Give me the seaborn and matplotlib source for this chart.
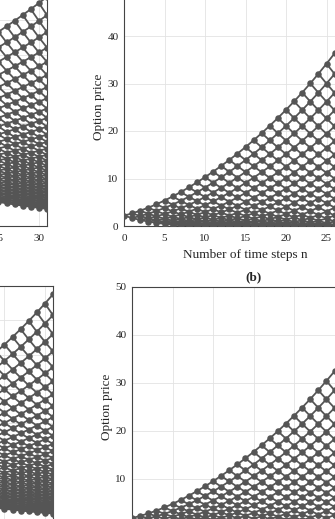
import numpy as np
import pandas as pd
import seaborn as sns
import matplotlib.pyplot as plt

# lattice parameters per panel (top-left, top-right, bottom-left, bottom-right),
# estimated from the visible parts of the reference
panels = ['tl', 'tr', 'bl', 'br']
tree_kind = ['stock', 'call', 'stock', 'call']
start_price = [28.4, 18.0, 19.1, 18.0]
up_factor = [1.028, 1.043, 1.0416, 1.042]
down_factor = [0.9456, 0.9588, 0.9479, 0.9597]
strike = [0.0, 17.5, 0.0, 18.0]
step_rate = [0.0, 0.001, 0.0, 0.001]
n_steps = [31, 30, 31, 30]

x_ticks = [0, 5, 10, 15, 20, 25, 30]
y_max = [70, 50, 70, 50]

# axes boxes in pixels: left, top, right, bottom (figure 335 x 519)
boxes = [(-204, -14, 47, 226), (124, -11.5, 367, 226),
         (-198, 286, 53, 526), (132, 287, 375, 527)]

node_color = '#555555'


def lattice(kind, s0, u, d, k, r, n):
    stock = [[s0 * u**j * d**(i - j) for j in range(i + 1)] for i in range(n + 1)]
    if kind == 'stock':
        return stock
    p = (np.exp(r) - d) / (u - d)
    vals = [None] * (n + 1)
    vals[n] = [max(s - k, 0.0) for s in stock[n]]
    for i in range(n - 1, -1, -1):
        vals[i] = [np.exp(-r) * (p * vals[i + 1][j + 1] + (1 - p) * vals[i + 1][j])
                   for j in range(i + 1)]
    return vals


def tree_frames(vals):
    n = len(vals) - 1
    nodes = [(i, vals[i][j]) for i in range(n + 1) for j in range(i + 1)]
    rows = []
    for k in range(n + 1):
        # same number of up moves -> falling path, same number of down moves -> rising path
        for i in range(k, n + 1):
            rows.append((f'dn{k}', i, vals[i][k]))
        for i in range(k, n + 1):
            rows.append((f'up{k}', i, vals[i][i - k]))
    edges = pd.DataFrame(rows, columns=['path', 'step', 'price'])
    pts = pd.DataFrame(nodes, columns=['step', 'price'])
    return edges, pts


sns.set_style('whitegrid', {'grid.color': '#e3e3e3', 'axes.edgecolor': '#444444'})
plt.rcParams['font.family'] = ['Liberation Serif', 'DejaVu Serif']

fig = plt.figure(figsize=(3.35, 5.19), dpi=100)
W, H = 335.0, 519.0

for idx in range(4):
    l, t, r, b = boxes[idx]
    ax = fig.add_axes([l / W, (H - b) / H, (r - l) / W, (b - t) / H])
    vals = lattice(tree_kind[idx], start_price[idx], up_factor[idx], down_factor[idx],
                   strike[idx], step_rate[idx], n_steps[idx])
    edges, pts = tree_frames(vals)
    sns.lineplot(data=edges, x='step', y='price', units='path', estimator=None,
                 sort=False, color=node_color, linewidth=1.3, ax=ax)
    sns.scatterplot(data=pts, x='step', y='price', color=node_color, s=22,
                    edgecolor=node_color, linewidth=0, ax=ax, zorder=3)
    ax.set_xlim(0, 31 if tree_kind[idx] == 'stock' else 30)
    ax.set_ylim(0, y_max[idx])
    ax.set_xticks(x_ticks)
    ax.set_yticks(range(0, y_max[idx] + 1, 10))
    ax.tick_params(direction='in', length=3, labelsize=8, color='#444444')
    ax.tick_params(axis='x', pad=6)
    ax.tick_params(axis='y', pad=4)
    for sp in ax.spines.values():
        sp.set_linewidth(0.8)
    ax.grid(True, linewidth=0.6)
    ax.set_xlabel('Number of time steps n', fontsize=9.5, labelpad=4)
    ax.set_ylabel('Option price', fontsize=9.5, labelpad=2)

fig.axes[3].set_title('(b)', fontsize=9.5, fontweight='bold', pad=5)

fig.savefig('out.png', dpi=100)
